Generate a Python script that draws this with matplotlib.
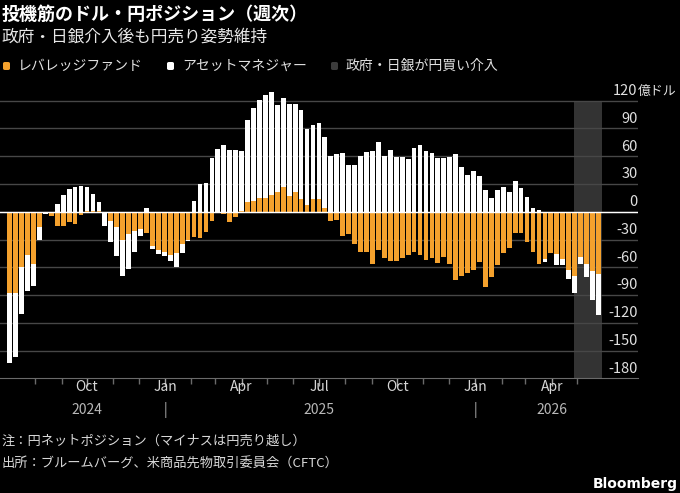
import numpy as np
import pandas as pd
import matplotlib
matplotlib.use('Agg')
import matplotlib.pyplot as plt
import matplotlib.transforms as mtransforms
from matplotlib.patches import FancyBboxPatch

plt.rcParams['font.family'] = ['Noto Sans CJK JP', 'DejaVu Sans']

# weekly CFTC data, 100 weeks starting 2024-07-02 (億ドル)
first_week = '2024-07-02'
lev_funds = [-88, -88, -60, -47, -56, -17, 0, -5, -15, -15,
             -11, -13, -4, 1, 1, 1, 0, -10, -16, -30,
             -24, -21, -19, -23, -37, -41, -44, -47, -45, -35,
             -31, -27, -28, -22, -10, 0, -2, -11, -6, 1,
             10, 12, 15, 15, 18, 21, 27, 17, 21, 14,
             7, 14, 14, 4, -10, -9, -26, -24, -35, -43,
             -44, -56, -41, -50, -53, -53, -50, -47, -44, -47,
             -52, -50, -55, -49, -57, -74, -69, -66, -63, -54,
             -81, -71, -58, -45, -39, -23, -23, -33, -43, -56,
             -51, -45, -46, -51, -63, -69, -49, -56, -64, -67]
asset_mgr = [-76, -69, -50, -39, -24, -14, -2, 0, 8, 18,
             25, 27, 28, 26, 18, 9, -15, -23, -32, -39,
             -38, -23, -7, 4, -3, -5, -4, -6, -15, -10,
             -1, 12, 30, 31, 58, 68, 72, 67, 67, 65,
             89, 100, 106, 111, 111, 94, 96, 99, 95, 96,
             82, 80, 82, 77, 60, 62, 63, 51, 51, 60,
             65, 66, 75, 60, 67, 59, 59, 57, 69, 72,
             66, 64, 58, 58, 59, 62, 48, 40, 44, 39,
             24, 15, 24, 27, 21, 33, 26, 16, 4, 2,
             -3, 0, -12, -7, -10, -19, -8, -15, -31, -45]
intervention = ('2026-04-27', '2026-05-30')

y_ticks = [-180, -150, -120, -90, -60, -30, 0, 30, 60, 90, 120]
month_ticks = ['2024-10-01', '2025-01-01', '2025-04-01', '2025-07-01',
               '2025-10-01', '2026-01-01', '2026-04-01']
month_labels = ['Oct', 'Jan', 'Apr', 'Jul', 'Oct', 'Jan', 'Apr']
year_ticks = ['2024-10-01', '2025-01-01', '2025-07-01', '2026-01-01', '2026-04-01']
year_labels = ['2024', '|', '2025', '|', '2026']

ORANGE = '#f4a12d'
WHITE = '#ffffff'
SHADE = '#333333'
GRID = '#474747'

W, H = 680, 493
fig = plt.figure(figsize=(W / 100, H / 100), dpi=100, facecolor='black')
ax = fig.add_axes([0, 1 - 378.3 / H, 637.5 / W, (378.3 - 89.6) / H])
ax.set_facecolor('black')

dates = pd.date_range(first_week, periods=len(lev_funds), freq='7D')
lev = np.array(lev_funds, dtype=float)
am = np.array(asset_mgr, dtype=float)
am_bottom = np.where(np.sign(am) == np.sign(lev), lev, 0)

ax.fill_between(pd.to_datetime(list(intervention)), -180, 120, color=SHADE, lw=0, zorder=0)

for v in y_ticks[1:]:
    ax.axhline(v, color=GRID, lw=1, zorder=0.5)

ax.bar(dates, lev, width=5.6, color=ORANGE, lw=0, zorder=2)
ax.bar(dates, am, bottom=am_bottom, width=5.6, color=WHITE, lw=0, zorder=2)
ax.axhline(0, color='white', lw=1, zorder=3)

ax.set_xlim(pd.Timestamp('2024-06-20 14:00'), pd.Timestamp('2026-07-11'))
ax.set_ylim(-180, 132)

for s in ['top', 'right', 'left']:
    ax.spines[s].set_visible(False)
ax.spines['bottom'].set_color('#6a6a6a')
ax.set_yticks([])

ax.set_xticks(pd.to_datetime(month_ticks))
ax.set_xticks(pd.date_range('2024-08-01', '2026-05-01', freq='MS'), minor=True)
ax.set_xticklabels([])
ax.tick_params(axis='x', which='major', length=6, width=1, color='#a0a0a0')
ax.tick_params(axis='x', which='minor', length=4, width=1, color='#6a6a6a')

# y labels sit above gridlines on the right
ytr = mtransforms.blended_transform_factory(ax.transAxes, ax.transData)
for v in y_ticks:
    ax.text(1.0, v + 6, str(v), transform=ytr, ha='right', va='baseline',
            fontsize=10.5, color='#e0e0e0')
ax.text(1.0, y_ticks[-1] + 6, '億ドル', transform=ytr, ha='left', va='baseline',
        fontsize=9.3, color='#e0e0e0')

xtr = mtransforms.blended_transform_factory(ax.transData, fig.transFigure)
for d, lab in zip(pd.to_datetime(month_ticks), month_labels):
    ax.text(d, 1 - 387 / H, lab, transform=xtr, ha='center', va='center',
            fontsize=10, color='#d6d6d6')
for d, lab in zip(pd.to_datetime(year_ticks), year_labels):
    ax.text(d, 1 - 410 / H, lab, transform=xtr, ha='center', va='center',
            fontsize=10, color='#b8b8b8')

# titles
fig.text(0.002, 1 - 14 / H, '投機筋のドル・円ポジション（週次）', fontsize=13, weight='bold',
         color='white', va='center')
fig.text(0.002, 1 - 37 / H, '政府・日銀介入後も円売り姿勢維持', fontsize=12,
         color='#e8e8e8', va='center')

# legend
legend_items = [(3, ORANGE, 'レバレッジファンド'),
                (167, WHITE, 'アセットマネジャー'),
                (331, '#3c3c3c', '政府・日銀が円買い介入')]
for x0, col, lab in legend_items:
    fig.patches.append(FancyBboxPatch((x0 / W, 1 - 70 / H), 7 / W, 8 / H,
                                      boxstyle='round,pad=0,rounding_size=0.003',
                                      transform=fig.transFigure, color=col, lw=0))
    fig.text((x0 + 15) / W, 1 - 66 / H, lab, fontsize=10, color='#e0e0e0', va='center')

fig.text(0.002, 1 - 441 / H, '注：円ネットポジション（マイナスは円売り越し）', fontsize=9.5,
         color='#d8d8d8', va='center')
fig.text(0.002, 1 - 464 / H, '出所：ブルームバーグ、米商品先物取引委員会（CFTC）', fontsize=9.5,
         color='#d8d8d8', va='center')
fig.text(0.997, 1 - 484 / H, 'Bloomberg', fontsize=10, weight='bold', color='white',
         ha='right', va='center', family=['DejaVu Sans'])

fig.savefig('out.png', dpi=100, facecolor='black')
